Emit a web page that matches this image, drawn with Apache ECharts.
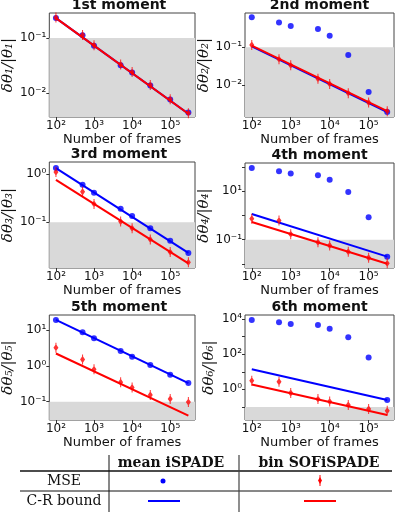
<!DOCTYPE html>
<html>
<head>
<meta charset="utf-8">
<script src="https://cdn.jsdelivr.net/npm/echarts@6/dist/echarts.min.js"></script>
<style>
html, body { margin: 0; padding: 0; background: #fff; }
#chart { width: 397px; height: 512px; }
</style>
</head>
<body>
<div id="chart"></div>
<script>
// frames used for the MSE points
const frames = [100, 500, 1000, 5000, 10000, 30000, 100000, 300000]
// C-R bound lines are straight in log-log, only the two ends are read
const crbFrames = [100, 300000]

const titles = ['1st moment', '2nd moment', '3rd moment', '4th moment', '5th moment', '6th moment']
const subs = ['\u2081', '\u2082', '\u2083', '\u2084', '\u2085', '\u2086']

// mean iSPADE, MSE (blue dots)
const meanMse1 = [0.23, 0.112, 0.072, 0.032, 0.0235, 0.0137, 0.0076, 0.0044]
const meanMse2 = [0.625, 0.45, 0.367, 0.306, 0.2, 0.0625, 0.0065, 0.0019]
const meanMse3 = [1.33, 0.6, 0.41, 0.19, 0.135, 0.075, 0.041, 0.023]
const meanMse4 = [92, 67, 54, 46, 30, 9.4, 0.84, 0.02]
const meanMse5 = [19, 8.6, 5.9, 2.6, 1.8, 1.06, 0.56, 0.33]
const meanMse6 = [8800, 6500, 5200, 4600, 2800, 920, 64, 0.25]

// bin SOFiSPADE, MSE (red diamonds)
const binMse1 = [0.235, 0.114, 0.074, 0.033, 0.024, 0.014, 0.0077, 0.0043]
const binMse2 = [0.115, 0.048, 0.033, 0.0145, 0.0106, 0.006, 0.0034, 0.002]
const binMse3 = [1.1, 0.43, 0.24, 0.103, 0.075, 0.044, 0.024, 0.0147]
const binMse4 = [0.74, 0.62, 0.17, 0.079, 0.058, 0.032, 0.018, 0.0106]
const binMse5 = [3.2, 1.5, 0.8, 0.35, 0.25, 0.155, 0.12, 0.098]
const binMse6 = [3.1, 2.7, 0.62, 0.28, 0.2, 0.13, 0.076, 0.06]

// C-R bounds at 1e2 and 3e5 frames
const meanCrb1 = [0.23, 0.0042]
const meanCrb2 = [0.105, 0.0019]
const meanCrb3 = [1.33, 0.023]
const meanCrb4 = [1.16, 0.02]
const meanCrb5 = [19, 0.33]
const meanCrb6 = [14, 0.25]
const binCrb1 = [0.23, 0.0042]
const binCrb2 = [0.11, 0.002]
const binCrb3 = [0.76, 0.014]
const binCrb4 = [0.54, 0.0102]
const binCrb5 = [2.2, 0.041]
const binCrb6 = [1.9, 0.035]

// axis limits and labelled decades
const xRange = [67, 448000]
const xLabelExps = [2, 3, 4, 5]
const yRanges = [[0.00366, 0.285], [0.0014, 0.81], [0.0112, 1.78], [0.0068, 148], [0.031, 26], [0.018, 17000]]
const yLabelExps = [[-2, -1], [-2, -1], [-1, 0], [-1, 1], [-1, 0, 1], [0, 2, 4]]
const shadeBelow = 0.1

const meanMse = [meanMse1, meanMse2, meanMse3, meanMse4, meanMse5, meanMse6]
const binMse = [binMse1, binMse2, binMse3, binMse4, binMse5, binMse6]
const meanCrb = [meanCrb1, meanCrb2, meanCrb3, meanCrb4, meanCrb5, meanCrb6]
const binCrb = [binCrb1, binCrb2, binCrb3, binCrb4, binCrb5, binCrb6]

const grids = [
    { left: 43, top: 13, width: 152, height: 104 },
    { left: 245, top: 13, width: 149, height: 104 },
    { left: 43, top: 162, width: 152, height: 106 },
    { left: 245, top: 163, width: 149, height: 105 },
    { left: 43, top: 315, width: 152, height: 105 },
    { left: 245, top: 315, width: 149, height: 105 }
]

const supMap = { '-': '\u207b', '0': '\u2070', '1': '\u00b9', '2': '\u00b2', '3': '\u00b3', '4': '\u2074', '5': '\u2075', '6': '\u2076' }
function pow10Label(exps) {
    return function (v) {
        const e = Math.log10(v)
        const r = Math.round(e)
        if (Math.abs(e - r) > 1e-6 || exps.indexOf(r) < 0) return ''
        return '10' + String(r).split('').map(c => supMap[c]).join('')
    }
}

// red marker: thin diamond with its error bar
const diamondBar = 'path://M-0.4,-6H0.4V-3.5L2,0L0.4,3.5V6H-0.4V3.5L-2,0L-0.4,-3.5Z'

const myChart = echarts.init(document.getElementById('chart'), null, { renderer: 'canvas' })

const xAxes = []
const yAxes = []
const series = []
const graphics = []

titles.forEach(function (t, i) {
    const g = grids[i]
    xAxes.push({
        type: 'log', logBase: 10, gridIndex: i,
        min: xRange[0], max: xRange[1],
        name: 'Number of frames', nameLocation: 'middle', nameGap: 12,
        nameTextStyle: { fontFamily: 'DejaVu Sans', fontSize: 13, color: '#111' },
        axisLine: { show: false },
        axisTick: { show: true, length: 3, lineStyle: { color: '#333' } },
        axisLabel: { formatter: pow10Label(xLabelExps), margin: 3, fontFamily: 'DejaVu Sans', fontSize: 12, color: '#111', showMinLabel: false, showMaxLabel: false },
        splitLine: { show: false }
    })
    yAxes.push({
        type: 'log', logBase: 10, gridIndex: i,
        min: yRanges[i][0], max: yRanges[i][1],
        name: '\u03b4\u03b8' + subs[i] + '/|\u03b8' + subs[i] + '|',
        nameLocation: 'middle', nameRotate: 90, nameGap: 28,
        nameTextStyle: { fontFamily: 'DejaVu Serif', fontStyle: 'italic', fontSize: 15, color: '#111' },
        axisLine: { show: false },
        axisTick: { show: true, length: 3, lineStyle: { color: '#333' } },
        axisLabel: { formatter: pow10Label(yLabelExps[i]), margin: 3, fontFamily: 'DejaVu Sans', fontSize: 12, color: '#111', showMinLabel: false, showMaxLabel: false },
        splitLine: { show: false }
    })
    graphics.push({
        type: 'text', x: g.left + g.width / 2, y: g.top - 8,
        style: { text: t, font: 'bold 14px "DejaVu Sans"', fill: '#111', align: 'center', verticalAlign: 'middle' }
    })

    series.push({
        type: 'line', xAxisIndex: i, yAxisIndex: i, z: 2,
        data: crbFrames.map((f, k) => [f, meanCrb[i][k]]),
        symbol: 'none', lineStyle: { color: '#0000ff', width: 2 },
        markArea: {
            silent: true,
            itemStyle: { color: '#d9d9d9' },
            data: [[{ yAxis: yRanges[i][0] }, { yAxis: shadeBelow }]]
        }
    })
    series.push({
        type: 'scatter', xAxisIndex: i, yAxisIndex: i, z: 3,
        data: frames.map((f, k) => [f, meanMse[i][k]]),
        symbol: 'circle', symbolSize: 6, itemStyle: { color: '#0000ff' }
    })
    series.push({
        type: 'line', xAxisIndex: i, yAxisIndex: i, z: 4,
        data: crbFrames.map((f, k) => [f, binCrb[i][k]]),
        symbol: 'none', lineStyle: { color: '#ff0000', width: 2 }
    })
    series.push({
        type: 'scatter', xAxisIndex: i, yAxisIndex: i, z: 5,
        data: frames.map((f, k) => [f, binMse[i][k]]),
        symbol: diamondBar, symbolSize: [5, 10], itemStyle: { color: '#ff0000' }
    })
})

// legend table under the panels
const ink = '#111'
graphics.push(
    { type: 'line', shape: { x1: 20, y1: 471, x2: 392, y2: 471 }, style: { stroke: ink, lineWidth: 1.5 } },
    { type: 'line', shape: { x1: 20, y1: 491, x2: 392, y2: 491 }, style: { stroke: ink, lineWidth: 1 } },
    { type: 'line', shape: { x1: 109, y1: 455, x2: 109, y2: 512 }, style: { stroke: ink, lineWidth: 1 } },
    { type: 'line', shape: { x1: 239, y1: 455, x2: 239, y2: 512 }, style: { stroke: '#444', lineWidth: 1.2 } },
    { type: 'text', x: 171, y: 463, style: { text: 'mean iSPADE', font: 'bold 14px "DejaVu Serif"', fill: ink, align: 'center', verticalAlign: 'middle' } },
    { type: 'text', x: 319, y: 463, style: { text: 'bin SOFiSPADE', font: 'bold 14px "DejaVu Serif"', fill: ink, align: 'center', verticalAlign: 'middle' } },
    { type: 'text', x: 64, y: 481, style: { text: 'MSE', font: '14px "DejaVu Serif"', fill: ink, align: 'center', verticalAlign: 'middle' } },
    { type: 'text', x: 64, y: 501, style: { text: 'C-R bound', font: '14px "DejaVu Serif"', fill: ink, align: 'center', verticalAlign: 'middle' } },
    { type: 'circle', shape: { cx: 163, cy: 481, r: 2.5 }, style: { fill: '#0000ff' } },
    { type: 'polygon', shape: { points: [[320, 477], [322, 480.5], [320, 484], [318, 480.5]] }, style: { fill: '#ff0000' } },
    { type: 'line', shape: { x1: 320, y1: 475, x2: 320, y2: 486 }, style: { stroke: '#ff0000', lineWidth: 1 } },
    { type: 'line', shape: { x1: 148, y1: 501, x2: 180, y2: 501 }, style: { stroke: '#0000ff', lineWidth: 2 } },
    { type: 'line', shape: { x1: 304, y1: 501, x2: 336, y2: 501 }, style: { stroke: '#ff0000', lineWidth: 2 } }
)

const option = {
    animation: false,
    backgroundColor: '#fff',
    grid: grids.map(g => Object.assign({ show: true, borderColor: '#444', borderWidth: 1, backgroundColor: 'transparent' }, g)),
    xAxis: xAxes,
    yAxis: yAxes,
    series: series,
    graphic: graphics
}

if (option && typeof option === 'object') {
    myChart.setOption(option)
}
</script>
</body>
</html>
